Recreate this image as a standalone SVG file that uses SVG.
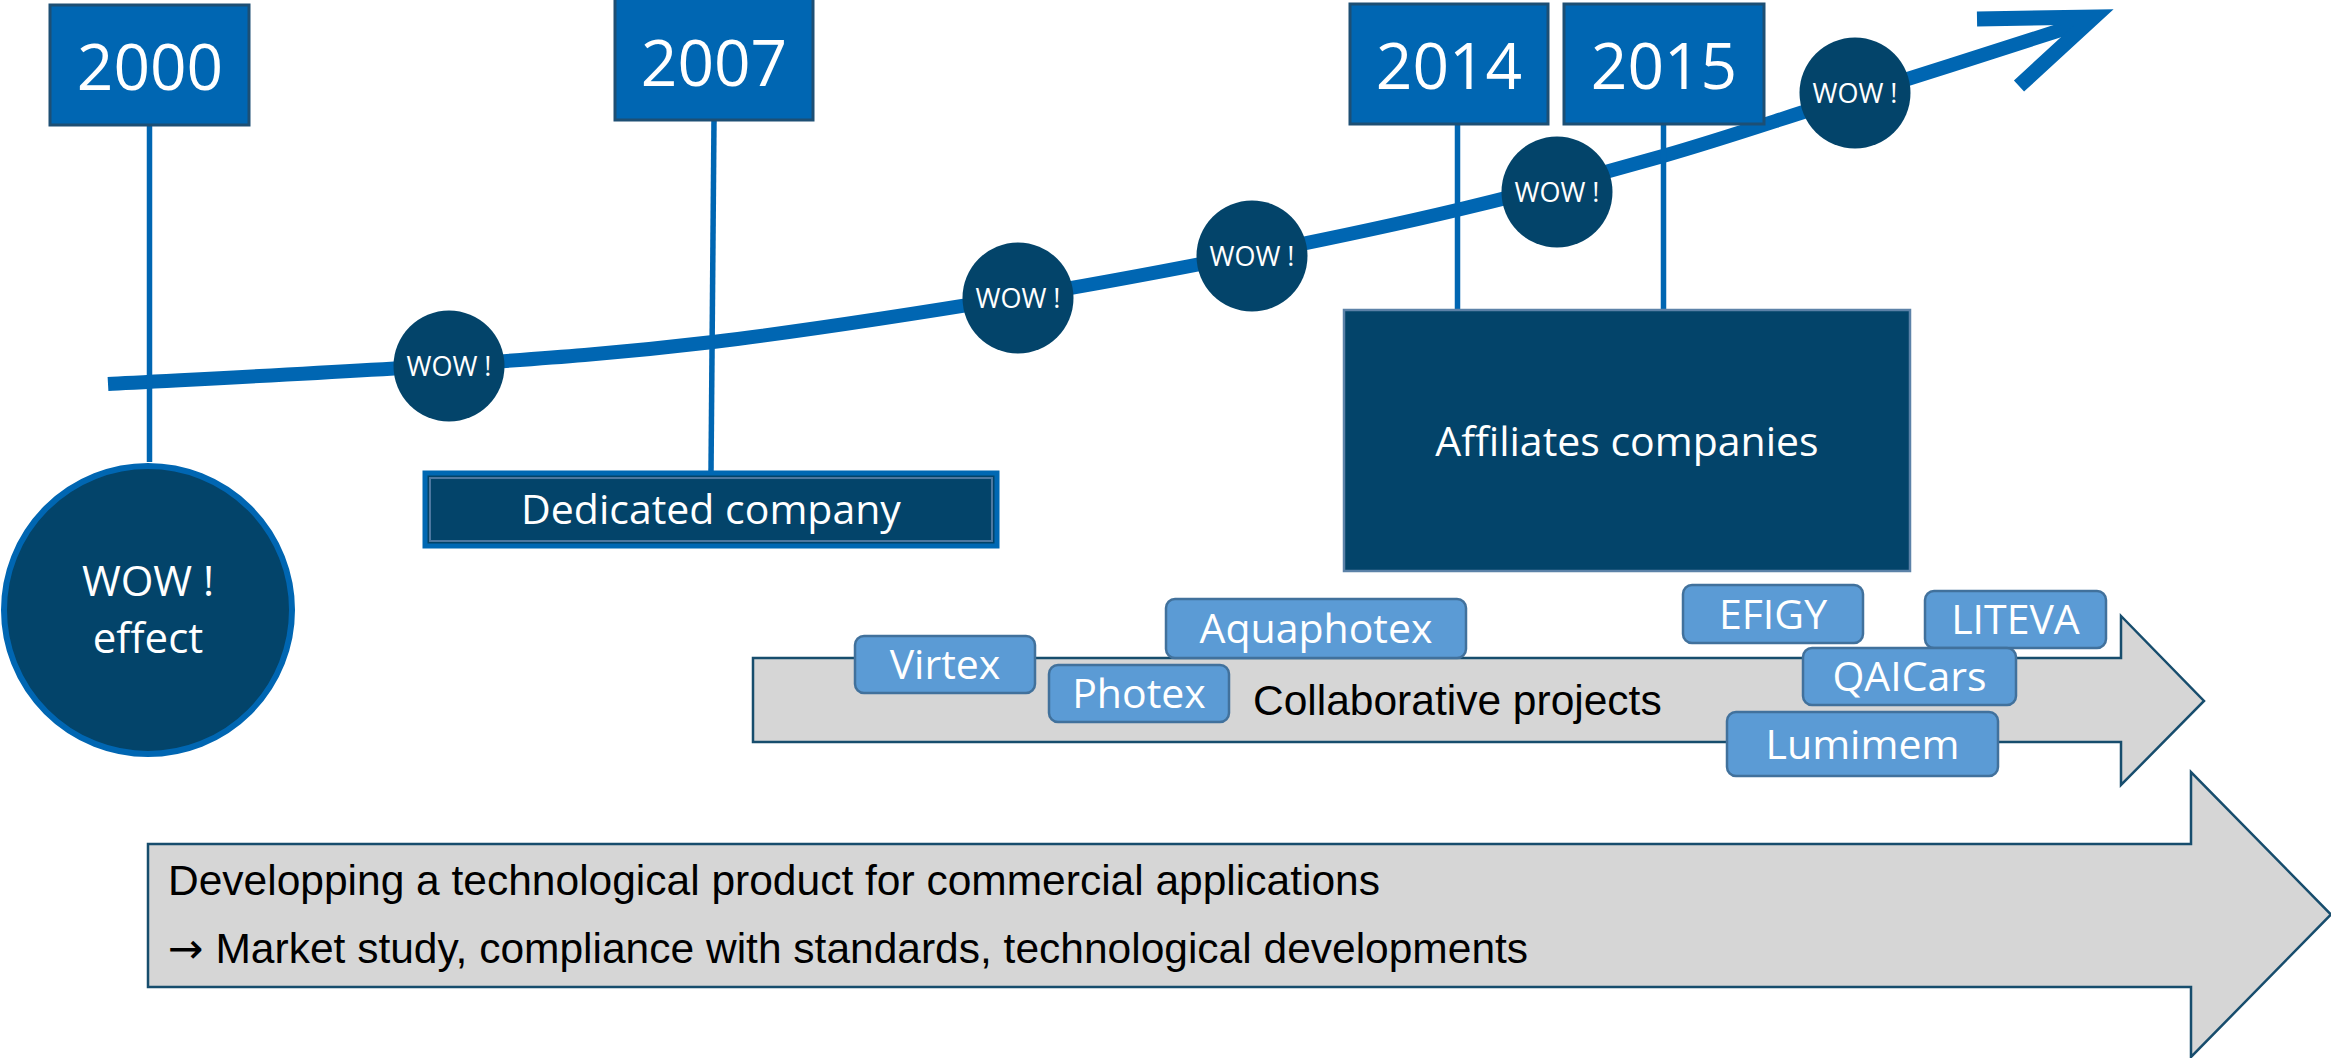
<svg xmlns="http://www.w3.org/2000/svg" width="2331" height="1058" viewBox="0 0 2331 1058">
<style>
.year rect{fill:#0066B2;stroke:#1D4F74;stroke-width:3}
.year text{font-family:"Open Sans","Liberation Sans",sans-serif;font-size:64px;fill:#fff;text-anchor:middle}
.wow circle{fill:#03446A}
.wow text{font-family:"Open Sans","Liberation Sans",sans-serif;font-size:27px;fill:#fff;text-anchor:middle}
.navy{fill:#03446A}
.wt{font-family:"Open Sans","Liberation Sans",sans-serif;font-size:41px;fill:#fff;text-anchor:middle}
.tag rect{fill:#5B9BD5;stroke:#41719C;stroke-width:2.5}
.tag text{font-family:"Open Sans","Liberation Sans",sans-serif;font-size:41px;fill:#fff;text-anchor:middle}
.garrow{fill:#D6D6D6;stroke:#174D6D;stroke-width:2.5}
.bt{font-family:"Liberation Sans",Arial,sans-serif;font-size:42.5px;fill:#000}
.conn{stroke:#0066B2;stroke-width:5.5;fill:none}
</style>
<g id="connectors">
<path d="M108,384 C164.8,380.8 348.2,372 449,365 C549.8,358 618.2,353.3 713,342 C807.8,330.7 928.2,311.7 1018,297 C1107.8,282.3 1178.8,268.5 1252,254 C1325.2,239.5 1388.5,226.3 1457,210 C1525.5,193.7 1596.8,175 1663,156 C1729.2,137 1779,119.3 1854,96 C1929,72.7 2060,30 2092,20" fill="none" stroke="#0066B2" stroke-width="14"/>
<polyline points="1977,19 2094,17 2019,86" fill="none" stroke="#0066B2" stroke-width="15" stroke-linejoin="miter" stroke-miterlimit="10"/>
<line class="conn" x1="149.5" y1="125" x2="149.5" y2="462"/>
<line class="conn" x1="714" y1="120" x2="711" y2="472"/>
<line class="conn" x1="1457.5" y1="124" x2="1457.5" y2="310"/>
<line class="conn" x1="1663.5" y1="124" x2="1663.5" y2="310"/>
</g>
<g id="bottom-arrow">
<polygon class="garrow" points="148,844 2191,844 2191,772 2331,914.5 2191,1057 2191,987 148,987"/>
<text class="bt" x="168" y="895">Developping a technological product for commercial applications</text>
<text class="bt" x="168" y="963"><tspan style="font-family:'DejaVu Sans',sans-serif">→</tspan> Market study, compliance with standards, technological developments</text>
</g>
<g id="collab-arrow">
<polygon class="garrow" points="753,658 2121,658 2121,616 2204,701 2121,785 2121,742 753,742"/>
<text class="bt" x="1253" y="715">Collaborative projects</text>
</g>
<g id="year-2000" class="year"><rect x="50" y="5" width="199" height="120"/><text x="150" y="90">2000</text></g>
<g id="year-2007" class="year"><rect x="615" y="-2" width="198" height="122"/><text x="714" y="86">2007</text></g>
<g id="year-2014" class="year"><rect x="1350" y="4" width="198" height="120"/><text x="1449" y="89">2014</text></g>
<g id="year-2015" class="year"><rect x="1564" y="4" width="200" height="120"/><text x="1664" y="89">2015</text></g>
<g id="wow1" class="wow"><circle cx="449" cy="366" r="55.5"/><text x="449" y="376">WOW !</text></g>
<g id="wow2" class="wow"><circle cx="1018" cy="298" r="55.5"/><text x="1018" y="308">WOW !</text></g>
<g id="wow3" class="wow"><circle cx="1252" cy="256" r="55.5"/><text x="1252" y="266">WOW !</text></g>
<g id="wow4" class="wow"><circle cx="1557" cy="192" r="55.5"/><text x="1557" y="202">WOW !</text></g>
<g id="wow5" class="wow"><circle cx="1855" cy="93" r="55.5"/><text x="1855" y="103">WOW !</text></g>
<g id="wow-effect">
<circle cx="148" cy="610" r="144" class="navy" stroke="#0066B2" stroke-width="6"/>
<text class="wt" x="148" y="596" style="font-size:42px">WOW !</text>
<text class="wt" x="148" y="653" style="font-size:42px">effect</text>
</g>
<g id="dedicated-company">
<rect x="425" y="473" width="572" height="73" class="navy" stroke="#0068B3" stroke-width="5"/>
<rect x="430" y="478" width="562" height="63" fill="none" stroke="#4E78A0" stroke-width="2"/>
<text class="wt" x="711" y="524">Dedicated company</text>
</g>
<g id="affiliates-companies">
<rect x="1344" y="310" width="566" height="261" class="navy" stroke="#5C82A8" stroke-width="2.5"/>
<text class="wt" x="1627" y="456">Affiliates companies</text>
</g>
<g id="virtex" class="tag"><rect x="855" y="636" width="180" height="57" rx="9"/><text x="945" y="679">Virtex</text></g>
<g id="aquaphotex" class="tag"><rect x="1166" y="599" width="300" height="59" rx="9"/><text x="1316" y="643">Aquaphotex</text></g>
<g id="photex" class="tag"><rect x="1049" y="665" width="180" height="57" rx="9"/><text x="1139" y="708">Photex</text></g>
<g id="efigy" class="tag"><rect x="1683" y="585" width="180" height="58" rx="9"/><text x="1773" y="629">EFIGY</text></g>
<g id="liteva" class="tag"><rect x="1925" y="591" width="181" height="57" rx="9"/><text x="2015.5" y="634">LITEVA</text></g>
<g id="qaicars" class="tag"><rect x="1803" y="648" width="213" height="57" rx="9"/><text x="1909.5" y="691">QAICars</text></g>
<g id="lumimem" class="tag"><rect x="1727" y="712" width="271" height="64" rx="9"/><text x="1862.5" y="759">Lumimem</text></g>
</svg>
